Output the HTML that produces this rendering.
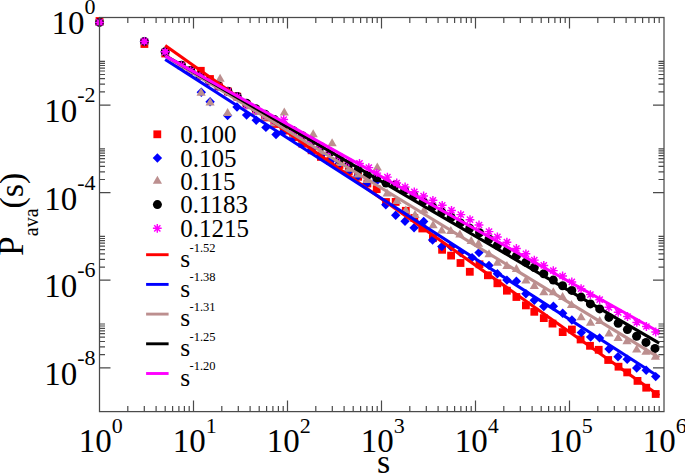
<!DOCTYPE html>
<html><head><meta charset="utf-8"><style>
html,body{margin:0;padding:0;background:#fff;}
#w{position:relative;width:685px;height:474px;overflow:hidden;font-family:"Liberation Serif",serif;color:#000;}
#w svg{position:absolute;left:0;top:0;}
.t{position:absolute;white-space:nowrap;line-height:1;}
.sup{position:relative;}
</style></head><body><div id="w">
<svg width="685" height="474" viewBox="0 0 685 474"><rect width="685" height="474" fill="#fff"/><g><rect x="95.6" y="17.1" width="7.8" height="7.8" fill="#ff0000"/><path d="M99.5 17.7L104.2 22.4L99.5 27.1L94.8 22.4Z" fill="#0000ff"/><path d="M99.5 17.9L104.1 25.9L94.9 25.9Z" fill="#bc8f8f"/><circle cx="99.5" cy="22.4" r="4.5" fill="#000"/><circle cx="99.5" cy="22.4" r="3.0" fill="#e000e0"/><path d="M95.1 22.4H103.9M99.5 18.0V26.8M96.4 19.3L102.6 25.5M96.4 25.5L102.6 19.3" stroke="#ff00ff" stroke-width="1.45" fill="none"/><rect x="140.5" y="40.1" width="7.8" height="7.8" fill="#ff0000"/><path d="M144.4 36.7L149.1 41.4L144.4 46.1L139.7 41.4Z" fill="#0000ff"/><path d="M144.4 36.9L149.0 44.9L139.8 44.9Z" fill="#bc8f8f"/><circle cx="144.4" cy="41.4" r="4.5" fill="#000"/><circle cx="144.4" cy="41.4" r="3.0" fill="#e000e0"/><path d="M140.0 41.4H148.8M144.4 37.0V45.8M141.3 38.3L147.5 44.5M141.3 44.5L147.5 38.3" stroke="#ff00ff" stroke-width="1.45" fill="none"/><rect x="161.3" y="49.6" width="7.8" height="7.8" fill="#ff0000"/><path d="M165.2 47.3L169.9 52.0L165.2 56.7L160.5 52.0Z" fill="#0000ff"/><path d="M165.2 47.5L169.8 55.5L160.6 55.5Z" fill="#bc8f8f"/><circle cx="165.2" cy="51.8" r="4.5" fill="#000"/><circle cx="165.2" cy="51.8" r="3.0" fill="#e000e0"/><path d="M160.8 51.8H169.6M165.2 47.4V56.2M162.1 48.7L168.3 54.9M162.1 54.9L168.3 48.7" stroke="#ff00ff" stroke-width="1.45" fill="none"/><rect x="651.8" y="390.1" width="7.8" height="7.8" fill="#ff0000"/><rect x="642.3" y="383.8" width="7.8" height="7.8" fill="#ff0000"/><rect x="633.6" y="377.0" width="7.8" height="7.8" fill="#ff0000"/><rect x="623.3" y="368.5" width="7.8" height="7.8" fill="#ff0000"/><rect x="614.6" y="362.8" width="7.8" height="7.8" fill="#ff0000"/><rect x="604.3" y="356.1" width="7.8" height="7.8" fill="#ff0000"/><rect x="594.8" y="345.9" width="7.8" height="7.8" fill="#ff0000"/><rect x="586.1" y="341.9" width="7.8" height="7.8" fill="#ff0000"/><rect x="576.7" y="335.6" width="7.8" height="7.8" fill="#ff0000"/><rect x="568.0" y="325.6" width="7.8" height="7.8" fill="#ff0000"/><rect x="558.8" y="328.2" width="7.8" height="7.8" fill="#ff0000"/><rect x="548.6" y="319.7" width="7.8" height="7.8" fill="#ff0000"/><rect x="539.9" y="314.2" width="7.8" height="7.8" fill="#ff0000"/><rect x="530.4" y="307.9" width="7.8" height="7.8" fill="#ff0000"/><rect x="522.0" y="301.5" width="7.8" height="7.8" fill="#ff0000"/><rect x="512.5" y="293.1" width="7.8" height="7.8" fill="#ff0000"/><rect x="503.0" y="286.8" width="7.8" height="7.8" fill="#ff0000"/><rect x="493.5" y="279.4" width="7.8" height="7.8" fill="#ff0000"/><rect x="484.0" y="271.4" width="7.8" height="7.8" fill="#ff0000"/><rect x="475.6" y="260.4" width="7.8" height="7.8" fill="#ff0000"/><rect x="465.9" y="267.9" width="7.8" height="7.8" fill="#ff0000"/><rect x="456.6" y="259.1" width="7.8" height="7.8" fill="#ff0000"/><rect x="447.2" y="251.7" width="7.8" height="7.8" fill="#ff0000"/><rect x="438.2" y="245.9" width="7.8" height="7.8" fill="#ff0000"/><rect x="429.0" y="234.3" width="7.8" height="7.8" fill="#ff0000"/><rect x="418.4" y="224.6" width="7.8" height="7.8" fill="#ff0000"/><rect x="410.4" y="214.1" width="7.8" height="7.8" fill="#ff0000"/><rect x="401.9" y="206.9" width="7.8" height="7.8" fill="#ff0000"/><rect x="391.8" y="198.0" width="7.8" height="7.8" fill="#ff0000"/><rect x="382.1" y="198.1" width="7.8" height="7.8" fill="#ff0000"/><rect x="372.8" y="185.3" width="7.8" height="7.8" fill="#ff0000"/><rect x="363.5" y="179.6" width="7.8" height="7.8" fill="#ff0000"/><rect x="354.2" y="172.9" width="7.8" height="7.8" fill="#ff0000"/><rect x="344.9" y="167.6" width="7.8" height="7.8" fill="#ff0000"/><rect x="335.6" y="161.1" width="7.8" height="7.8" fill="#ff0000"/><rect x="326.3" y="157.1" width="7.8" height="7.8" fill="#ff0000"/><rect x="317.0" y="153.0" width="7.8" height="7.8" fill="#ff0000"/><rect x="307.7" y="146.4" width="7.8" height="7.8" fill="#ff0000"/><rect x="298.4" y="139.8" width="7.8" height="7.8" fill="#ff0000"/><rect x="289.1" y="133.2" width="7.8" height="7.8" fill="#ff0000"/><rect x="279.8" y="126.7" width="7.8" height="7.8" fill="#ff0000"/><rect x="270.5" y="120.1" width="7.8" height="7.8" fill="#ff0000"/><rect x="261.2" y="113.5" width="7.8" height="7.8" fill="#ff0000"/><rect x="251.9" y="106.9" width="7.8" height="7.8" fill="#ff0000"/><rect x="242.6" y="100.3" width="7.8" height="7.8" fill="#ff0000"/><rect x="233.3" y="92.7" width="7.8" height="7.8" fill="#ff0000"/><rect x="224.0" y="87.5" width="7.8" height="7.8" fill="#ff0000"/><rect x="214.7" y="82.3" width="7.8" height="7.8" fill="#ff0000"/><rect x="206.1" y="75.1" width="7.8" height="7.8" fill="#ff0000"/><rect x="196.9" y="66.9" width="7.8" height="7.8" fill="#ff0000"/><rect x="186.8" y="66.7" width="7.8" height="7.8" fill="#ff0000"/><rect x="177.5" y="61.5" width="7.8" height="7.8" fill="#ff0000"/><path d="M655.7 371.9L660.4 376.6L655.7 381.3L651.0 376.6Z" fill="#0000ff"/><path d="M646.2 365.6L650.9 370.3L646.2 375.0L641.5 370.3Z" fill="#0000ff"/><path d="M636.7 363.3L641.4 368.0L636.7 372.7L632.0 368.0Z" fill="#0000ff"/><path d="M627.2 354.6L631.9 359.3L627.2 364.0L622.5 359.3Z" fill="#0000ff"/><path d="M618.0 352.0L622.7 356.7L618.0 361.4L613.3 356.7Z" fill="#0000ff"/><path d="M609.0 344.3L613.7 349.0L609.0 353.7L604.3 349.0Z" fill="#0000ff"/><path d="M599.6 333.2L604.3 337.9L599.6 342.6L594.9 337.9Z" fill="#0000ff"/><path d="M590.6 332.4L595.3 337.1L590.6 341.8L585.9 337.1Z" fill="#0000ff"/><path d="M581.3 327.9L586.0 332.6L581.3 337.3L576.6 332.6Z" fill="#0000ff"/><path d="M571.9 315.3L576.6 320.0L571.9 324.7L567.2 320.0Z" fill="#0000ff"/><path d="M562.7 308.5L567.4 313.2L562.7 317.9L558.0 313.2Z" fill="#0000ff"/><path d="M553.4 301.5L558.1 306.2L553.4 310.9L548.7 306.2Z" fill="#0000ff"/><path d="M543.8 301.8L548.5 306.5L543.8 311.2L539.1 306.5Z" fill="#0000ff"/><path d="M534.3 295.5L539.0 300.2L534.3 304.9L529.6 300.2Z" fill="#0000ff"/><path d="M525.9 289.1L530.6 293.8L525.9 298.5L521.2 293.8Z" fill="#0000ff"/><path d="M516.4 276.5L521.1 281.2L516.4 285.9L511.7 281.2Z" fill="#0000ff"/><path d="M506.9 275.4L511.6 280.1L506.9 284.8L502.2 280.1Z" fill="#0000ff"/><path d="M497.4 269.1L502.1 273.8L497.4 278.5L492.7 273.8Z" fill="#0000ff"/><path d="M489.0 260.7L493.7 265.4L489.0 270.1L484.3 265.4Z" fill="#0000ff"/><path d="M479.0 247.9L483.7 252.6L479.0 257.3L474.3 252.6Z" fill="#0000ff"/><path d="M472.1 252.9L476.8 257.6L472.1 262.3L467.4 257.6Z" fill="#0000ff"/><path d="M460.4 247.8L465.1 252.5L460.4 257.2L455.7 252.5Z" fill="#0000ff"/><path d="M451.1 242.1L455.8 246.8L451.1 251.5L446.4 246.8Z" fill="#0000ff"/><path d="M441.8 241.9L446.5 246.6L441.8 251.3L437.1 246.6Z" fill="#0000ff"/><path d="M432.6 235.3L437.3 240.0L432.6 244.7L427.9 240.0Z" fill="#0000ff"/><path d="M423.7 216.8L428.4 221.5L423.7 226.2L419.0 221.5Z" fill="#0000ff"/><path d="M414.1 223.0L418.8 227.7L414.1 232.4L409.4 227.7Z" fill="#0000ff"/><path d="M405.0 216.5L409.7 221.2L405.0 225.9L400.3 221.2Z" fill="#0000ff"/><path d="M395.7 210.5L400.4 215.2L395.7 219.9L391.0 215.2Z" fill="#0000ff"/><path d="M385.8 200.1L390.5 204.8L385.8 209.5L381.1 204.8Z" fill="#0000ff"/><path d="M376.2 176.7L380.9 181.4L376.2 186.1L371.5 181.4Z" fill="#0000ff"/><path d="M366.3 179.2L371.0 183.9L366.3 188.6L361.6 183.9Z" fill="#0000ff"/><path d="M357.8 171.6L362.5 176.3L357.8 181.0L353.1 176.3Z" fill="#0000ff"/><path d="M348.6 166.5L353.3 171.2L348.6 175.9L343.9 171.2Z" fill="#0000ff"/><path d="M338.4 159.8L343.1 164.5L338.4 169.2L333.7 164.5Z" fill="#0000ff"/><path d="M330.2 156.8L334.9 161.5L330.2 166.2L325.5 161.5Z" fill="#0000ff"/><path d="M320.9 150.8L325.6 155.5L320.9 160.2L316.2 155.5Z" fill="#0000ff"/><path d="M311.6 144.9L316.3 149.6L311.6 154.3L306.9 149.6Z" fill="#0000ff"/><path d="M302.3 138.9L307.0 143.6L302.3 148.3L297.6 143.6Z" fill="#0000ff"/><path d="M293.0 132.9L297.7 137.6L293.0 142.3L288.3 137.6Z" fill="#0000ff"/><path d="M283.7 126.9L288.4 131.6L283.7 136.3L279.0 131.6Z" fill="#0000ff"/><path d="M276.0 129.8L280.7 134.5L276.0 139.2L271.3 134.5Z" fill="#0000ff"/><path d="M265.9 122.7L270.6 127.4L265.9 132.1L261.2 127.4Z" fill="#0000ff"/><path d="M256.2 115.6L260.9 120.3L256.2 125.0L251.5 120.3Z" fill="#0000ff"/><path d="M246.6 110.4L251.3 115.1L246.6 119.8L241.9 115.1Z" fill="#0000ff"/><path d="M237.0 102.3L241.7 107.0L237.0 111.7L232.3 107.0Z" fill="#0000ff"/><path d="M227.6 110.8L232.3 115.5L227.6 120.2L222.9 115.5Z" fill="#0000ff"/><path d="M218.6 81.5L223.3 86.2L218.6 90.9L213.9 86.2Z" fill="#0000ff"/><path d="M210.1 97.1L214.8 101.8L210.1 106.5L205.4 101.8Z" fill="#0000ff"/><path d="M201.3 87.6L206.0 92.3L201.3 97.0L196.6 92.3Z" fill="#0000ff"/><path d="M190.7 65.9L195.4 70.6L190.7 75.3L186.0 70.6Z" fill="#0000ff"/><path d="M181.4 60.7L186.1 65.4L181.4 70.1L176.7 65.4Z" fill="#0000ff"/><path d="M655.4 351.8L660.0 359.8L650.8 359.8Z" fill="#bc8f8f"/><path d="M646.0 346.7L650.6 354.7L641.4 354.7Z" fill="#bc8f8f"/><path d="M636.7 344.6L641.3 352.6L632.1 352.6Z" fill="#bc8f8f"/><path d="M627.0 336.3L631.6 344.3L622.4 344.3Z" fill="#bc8f8f"/><path d="M618.1 333.1L622.7 341.1L613.5 341.1Z" fill="#bc8f8f"/><path d="M609.0 328.4L613.6 336.4L604.4 336.4Z" fill="#bc8f8f"/><path d="M599.7 316.0L604.3 324.0L595.1 324.0Z" fill="#bc8f8f"/><path d="M590.5 317.7L595.1 325.7L585.9 325.7Z" fill="#bc8f8f"/><path d="M581.1 312.2L585.7 320.2L576.5 320.2Z" fill="#bc8f8f"/><path d="M571.5 300.0L576.1 308.0L566.9 308.0Z" fill="#bc8f8f"/><path d="M562.6 292.1L567.2 300.1L558.0 300.1Z" fill="#bc8f8f"/><path d="M553.3 287.2L557.9 295.2L548.7 295.2Z" fill="#bc8f8f"/><path d="M543.8 287.2L548.4 295.2L539.2 295.2Z" fill="#bc8f8f"/><path d="M534.3 280.9L538.9 288.9L529.7 288.9Z" fill="#bc8f8f"/><path d="M525.9 275.6L530.5 283.6L521.3 283.6Z" fill="#bc8f8f"/><path d="M516.4 264.0L521.0 272.0L511.8 272.0Z" fill="#bc8f8f"/><path d="M506.9 260.9L511.5 268.9L502.3 268.9Z" fill="#bc8f8f"/><path d="M497.4 257.7L502.0 265.7L492.8 265.7Z" fill="#bc8f8f"/><path d="M489.0 249.3L493.6 257.3L484.4 257.3Z" fill="#bc8f8f"/><path d="M478.5 238.8L483.1 246.8L473.9 246.8Z" fill="#bc8f8f"/><path d="M471.2 236.0L475.8 244.0L466.6 244.0Z" fill="#bc8f8f"/><path d="M459.9 229.5L464.5 237.5L455.3 237.5Z" fill="#bc8f8f"/><path d="M450.8 225.9L455.4 233.9L446.2 233.9Z" fill="#bc8f8f"/><path d="M441.7 225.6L446.3 233.6L437.1 233.6Z" fill="#bc8f8f"/><path d="M433.1 220.2L437.7 228.2L428.5 228.2Z" fill="#bc8f8f"/><path d="M424.0 205.6L428.6 213.6L419.4 213.6Z" fill="#bc8f8f"/><path d="M415.0 210.1L419.6 218.1L410.4 218.1Z" fill="#bc8f8f"/><path d="M405.8 205.4L410.4 213.4L401.2 213.4Z" fill="#bc8f8f"/><path d="M397.0 196.1L401.6 204.1L392.4 204.1Z" fill="#bc8f8f"/><path d="M387.1 188.6L391.7 196.6L382.5 196.6Z" fill="#bc8f8f"/><path d="M377.3 162.5L381.9 170.5L372.7 170.5Z" fill="#bc8f8f"/><path d="M367.4 175.0L372.0 183.0L362.8 183.0Z" fill="#bc8f8f"/><path d="M358.1 169.4L362.7 177.4L353.5 177.4Z" fill="#bc8f8f"/><path d="M348.8 163.7L353.4 171.7L344.2 171.7Z" fill="#bc8f8f"/><path d="M339.5 158.0L344.1 166.0L334.9 166.0Z" fill="#bc8f8f"/><path d="M332.1 138.3L336.7 146.3L327.5 146.3Z" fill="#bc8f8f"/><path d="M320.9 146.7L325.5 154.7L316.3 154.7Z" fill="#bc8f8f"/><path d="M313.2 129.3L317.8 137.3L308.6 137.3Z" fill="#bc8f8f"/><path d="M302.3 135.3L306.9 143.3L297.7 143.3Z" fill="#bc8f8f"/><path d="M293.0 129.6L297.6 137.6L288.4 137.6Z" fill="#bc8f8f"/><path d="M284.3 107.5L288.9 115.5L279.7 115.5Z" fill="#bc8f8f"/><path d="M274.4 118.3L279.0 126.3L269.8 126.3Z" fill="#bc8f8f"/><path d="M265.1 112.6L269.7 120.6L260.5 120.6Z" fill="#bc8f8f"/><path d="M255.8 106.9L260.4 114.9L251.2 114.9Z" fill="#bc8f8f"/><path d="M246.5 101.3L251.1 109.3L241.9 109.3Z" fill="#bc8f8f"/><path d="M237.2 92.1L241.8 100.1L232.6 100.1Z" fill="#bc8f8f"/><path d="M227.6 108.1L232.2 116.1L223.0 116.1Z" fill="#bc8f8f"/><path d="M220.1 73.7L224.7 81.7L215.5 81.7Z" fill="#bc8f8f"/><path d="M210.1 97.6L214.7 105.6L205.5 105.6Z" fill="#bc8f8f"/><path d="M201.1 87.8L205.7 95.8L196.5 95.8Z" fill="#bc8f8f"/><path d="M190.7 66.1L195.3 74.1L186.1 74.1Z" fill="#bc8f8f"/><path d="M181.4 60.9L186.0 68.9L176.8 68.9Z" fill="#bc8f8f"/><circle cx="655.0" cy="348.4" r="4.5" fill="#000"/><circle cx="646.0" cy="342.4" r="4.5" fill="#000"/><circle cx="636.6" cy="336.2" r="4.5" fill="#000"/><circle cx="627.4" cy="329.6" r="4.5" fill="#000"/><circle cx="618.2" cy="323.3" r="4.5" fill="#000"/><circle cx="608.9" cy="317.4" r="4.5" fill="#000"/><circle cx="599.7" cy="308.9" r="4.5" fill="#000"/><circle cx="590.4" cy="303.9" r="4.5" fill="#000"/><circle cx="581.1" cy="297.1" r="4.5" fill="#000"/><circle cx="571.8" cy="290.4" r="4.5" fill="#000"/><circle cx="562.6" cy="285.8" r="4.5" fill="#000"/><circle cx="553.3" cy="280.1" r="4.5" fill="#000"/><circle cx="543.8" cy="273.8" r="4.5" fill="#000"/><circle cx="534.3" cy="267.5" r="4.5" fill="#000"/><circle cx="525.9" cy="262.2" r="4.5" fill="#000"/><circle cx="516.4" cy="255.9" r="4.5" fill="#000"/><circle cx="506.9" cy="250.6" r="4.5" fill="#000"/><circle cx="497.4" cy="245.3" r="4.5" fill="#000"/><circle cx="489.0" cy="239.0" r="4.5" fill="#000"/><circle cx="479.5" cy="232.7" r="4.5" fill="#000"/><circle cx="469.7" cy="228.3" r="4.5" fill="#000"/><circle cx="460.4" cy="222.9" r="4.5" fill="#000"/><circle cx="451.1" cy="217.5" r="4.5" fill="#000"/><circle cx="441.8" cy="212.1" r="4.5" fill="#000"/><circle cx="432.5" cy="206.7" r="4.5" fill="#000"/><circle cx="423.2" cy="201.2" r="4.5" fill="#000"/><circle cx="413.9" cy="195.8" r="4.5" fill="#000"/><circle cx="404.6" cy="190.4" r="4.5" fill="#000"/><circle cx="395.3" cy="185.0" r="4.5" fill="#000"/><circle cx="386.0" cy="183.1" r="4.5" fill="#000"/><circle cx="376.7" cy="177.7" r="4.5" fill="#000"/><circle cx="367.4" cy="175.4" r="4.5" fill="#000"/><circle cx="358.1" cy="170.0" r="4.5" fill="#000"/><circle cx="348.8" cy="164.6" r="4.5" fill="#000"/><circle cx="339.5" cy="159.2" r="4.5" fill="#000"/><circle cx="330.2" cy="152.1" r="4.5" fill="#000"/><circle cx="320.9" cy="146.7" r="4.5" fill="#000"/><circle cx="311.6" cy="141.3" r="4.5" fill="#000"/><circle cx="302.3" cy="135.8" r="4.5" fill="#000"/><circle cx="293.0" cy="130.4" r="4.5" fill="#000"/><circle cx="283.7" cy="125.0" r="4.5" fill="#000"/><circle cx="274.4" cy="119.6" r="4.5" fill="#000"/><circle cx="265.1" cy="114.2" r="4.5" fill="#000"/><circle cx="255.8" cy="108.8" r="4.5" fill="#000"/><circle cx="246.5" cy="103.3" r="4.5" fill="#000"/><circle cx="237.2" cy="96.4" r="4.5" fill="#000"/><circle cx="227.9" cy="91.2" r="4.5" fill="#000"/><circle cx="218.6" cy="86.0" r="4.5" fill="#000"/><circle cx="209.3" cy="80.8" r="4.5" fill="#000"/><circle cx="200.0" cy="75.6" r="4.5" fill="#000"/><circle cx="190.7" cy="70.4" r="4.5" fill="#000"/><circle cx="181.4" cy="65.2" r="4.5" fill="#000"/><path d="M651.3 332.0H660.1M655.7 327.6V336.4M652.6 328.9L658.8 335.1M652.6 335.1L658.8 328.9" stroke="#ff00ff" stroke-width="1.45" fill="none"/><path d="M642.0 326.5H650.8M646.4 322.1V330.9M643.3 323.4L649.5 329.6M643.3 329.6L649.5 323.4" stroke="#ff00ff" stroke-width="1.45" fill="none"/><path d="M632.4 322.4H641.2M636.8 318.0V326.8M633.7 319.3L639.9 325.5M633.7 325.5L639.9 319.3" stroke="#ff00ff" stroke-width="1.45" fill="none"/><path d="M623.1 316.5H631.9M627.5 312.1V320.9M624.4 313.4L630.6 319.6M624.4 319.6L630.6 313.4" stroke="#ff00ff" stroke-width="1.45" fill="none"/><path d="M613.8 312.3H622.6M618.2 307.9V316.7M615.1 309.2L621.3 315.4M615.1 315.4L621.3 309.2" stroke="#ff00ff" stroke-width="1.45" fill="none"/><path d="M604.5 307.3H613.3M608.9 302.9V311.7M605.8 304.2L612.0 310.4M605.8 310.4L612.0 304.2" stroke="#ff00ff" stroke-width="1.45" fill="none"/><path d="M595.3 299.7H604.1M599.7 295.3V304.1M596.6 296.6L602.8 302.8M596.6 302.8L602.8 296.6" stroke="#ff00ff" stroke-width="1.45" fill="none"/><path d="M586.0 294.6H594.8M590.4 290.2V299.0M587.3 291.5L593.5 297.7M587.3 297.7L593.5 291.5" stroke="#ff00ff" stroke-width="1.45" fill="none"/><path d="M576.7 288.7H585.5M581.1 284.3V293.1M578.0 285.6L584.2 291.8M578.0 291.8L584.2 285.6" stroke="#ff00ff" stroke-width="1.45" fill="none"/><path d="M567.4 281.9H576.2M571.8 277.5V286.3M568.7 278.8L574.9 285.0M568.7 285.0L574.9 278.8" stroke="#ff00ff" stroke-width="1.45" fill="none"/><path d="M558.2 276.0H567.0M562.6 271.6V280.4M559.5 272.9L565.7 279.1M559.5 279.1L565.7 272.9" stroke="#ff00ff" stroke-width="1.45" fill="none"/><path d="M548.9 270.6H557.7M553.3 266.2V275.0M550.2 267.5L556.4 273.7M550.2 273.7L556.4 267.5" stroke="#ff00ff" stroke-width="1.45" fill="none"/><path d="M539.4 265.4H548.2M543.8 261.0V269.8M540.7 262.3L546.9 268.5M540.7 268.5L546.9 262.3" stroke="#ff00ff" stroke-width="1.45" fill="none"/><path d="M529.9 260.1H538.7M534.3 255.7V264.5M531.2 257.0L537.4 263.2M531.2 263.2L537.4 257.0" stroke="#ff00ff" stroke-width="1.45" fill="none"/><path d="M521.5 253.8H530.3M525.9 249.4V258.2M522.8 250.7L529.0 256.9M522.8 256.9L529.0 250.7" stroke="#ff00ff" stroke-width="1.45" fill="none"/><path d="M512.0 248.5H520.8M516.4 244.1V252.9M513.3 245.4L519.5 251.6M513.3 251.6L519.5 245.4" stroke="#ff00ff" stroke-width="1.45" fill="none"/><path d="M502.5 242.2H511.3M506.9 237.8V246.6M503.8 239.1L510.0 245.3M503.8 245.3L510.0 239.1" stroke="#ff00ff" stroke-width="1.45" fill="none"/><path d="M493.0 236.9H501.8M497.4 232.5V241.3M494.3 233.8L500.5 240.0M494.3 240.0L500.5 233.8" stroke="#ff00ff" stroke-width="1.45" fill="none"/><path d="M484.6 231.6H493.4M489.0 227.2V236.0M485.9 228.5L492.1 234.7M485.9 234.7L492.1 228.5" stroke="#ff00ff" stroke-width="1.45" fill="none"/><path d="M474.6 225.0H483.4M479.0 220.6V229.4M475.9 221.9L482.1 228.1M475.9 228.1L482.1 221.9" stroke="#ff00ff" stroke-width="1.45" fill="none"/><path d="M465.6 219.7H474.4M470.0 215.3V224.1M466.9 216.6L473.1 222.8M466.9 222.8L473.1 216.6" stroke="#ff00ff" stroke-width="1.45" fill="none"/><path d="M456.4 214.6H465.2M460.8 210.2V219.0M457.7 211.5L463.9 217.7M457.7 217.7L463.9 211.5" stroke="#ff00ff" stroke-width="1.45" fill="none"/><path d="M447.1 210.4H455.9M451.5 206.0V214.8M448.4 207.3L454.6 213.5M448.4 213.5L454.6 207.3" stroke="#ff00ff" stroke-width="1.45" fill="none"/><path d="M437.8 205.3H446.6M442.2 200.9V209.7M439.1 202.2L445.3 208.4M439.1 208.4L445.3 202.2" stroke="#ff00ff" stroke-width="1.45" fill="none"/><path d="M428.5 200.3H437.3M432.9 195.9V204.7M429.8 197.2L436.0 203.4M429.8 203.4L436.0 197.2" stroke="#ff00ff" stroke-width="1.45" fill="none"/><path d="M419.2 196.0H428.0M423.6 191.6V200.4M420.5 192.9L426.7 199.1M420.5 199.1L426.7 192.9" stroke="#ff00ff" stroke-width="1.45" fill="none"/><path d="M409.9 191.8H418.7M414.3 187.4V196.2M411.2 188.7L417.4 194.9M411.2 194.9L417.4 188.7" stroke="#ff00ff" stroke-width="1.45" fill="none"/><path d="M400.7 187.0H409.5M405.1 182.6V191.4M402.0 183.9L408.2 190.1M402.0 190.1L408.2 183.9" stroke="#ff00ff" stroke-width="1.45" fill="none"/><path d="M392.3 183.0H401.1M396.7 178.6V187.4M393.6 179.9L399.8 186.1M393.6 186.1L399.8 179.9" stroke="#ff00ff" stroke-width="1.45" fill="none"/><path d="M383.0 177.1H391.8M387.4 172.7V181.5M384.3 174.0L390.5 180.2M384.3 180.2L390.5 174.0" stroke="#ff00ff" stroke-width="1.45" fill="none"/><path d="M372.3 173.1H381.1M376.7 168.7V177.5M373.6 170.0L379.8 176.2M373.6 176.2L379.8 170.0" stroke="#ff00ff" stroke-width="1.45" fill="none"/><path d="M364.4 167.6H373.2M368.8 163.2V172.0M365.7 164.5L371.9 170.7M365.7 170.7L371.9 164.5" stroke="#ff00ff" stroke-width="1.45" fill="none"/><path d="M355.1 163.4H363.9M359.5 159.0V167.8M356.4 160.3L362.6 166.5M356.4 166.5L362.6 160.3" stroke="#ff00ff" stroke-width="1.45" fill="none"/><path d="M344.4 162.0H353.2M348.8 157.6V166.4M345.7 158.9L351.9 165.1M345.7 165.1L351.9 158.9" stroke="#ff00ff" stroke-width="1.45" fill="none"/><path d="M335.1 156.8H343.9M339.5 152.4V161.2M336.4 153.7L342.6 159.9M336.4 159.9L342.6 153.7" stroke="#ff00ff" stroke-width="1.45" fill="none"/><path d="M325.8 151.6H334.6M330.2 147.2V156.0M327.1 148.5L333.3 154.7M327.1 154.7L333.3 148.5" stroke="#ff00ff" stroke-width="1.45" fill="none"/><path d="M316.5 146.4H325.3M320.9 142.0V150.8M317.8 143.3L324.0 149.5M317.8 149.5L324.0 143.3" stroke="#ff00ff" stroke-width="1.45" fill="none"/><path d="M307.2 141.2H316.0M311.6 136.8V145.6M308.5 138.1L314.7 144.3M308.5 144.3L314.7 138.1" stroke="#ff00ff" stroke-width="1.45" fill="none"/><path d="M297.9 136.0H306.7M302.3 131.6V140.4M299.2 132.9L305.4 139.1M299.2 139.1L305.4 132.9" stroke="#ff00ff" stroke-width="1.45" fill="none"/><path d="M288.6 130.8H297.4M293.0 126.4V135.2M289.9 127.7L296.1 133.9M289.9 133.9L296.1 127.7" stroke="#ff00ff" stroke-width="1.45" fill="none"/><path d="M279.3 119.5H288.1M283.7 115.1V123.9M280.6 116.4L286.8 122.6M280.6 122.6L286.8 116.4" stroke="#ff00ff" stroke-width="1.45" fill="none"/><path d="M270.0 120.4H278.8M274.4 116.0V124.8M271.3 117.3L277.5 123.5M271.3 123.5L277.5 117.3" stroke="#ff00ff" stroke-width="1.45" fill="none"/><path d="M260.7 115.2H269.5M265.1 110.8V119.6M262.0 112.1L268.2 118.3M262.0 118.3L268.2 112.1" stroke="#ff00ff" stroke-width="1.45" fill="none"/><path d="M251.4 110.0H260.2M255.8 105.6V114.4M252.7 106.9L258.9 113.1M252.7 113.1L258.9 106.9" stroke="#ff00ff" stroke-width="1.45" fill="none"/><path d="M242.1 104.8H250.9M246.5 100.4V109.2M243.4 101.7L249.6 107.9M243.4 107.9L249.6 101.7" stroke="#ff00ff" stroke-width="1.45" fill="none"/><path d="M232.8 96.9H241.6M237.2 92.5V101.3M234.1 93.8L240.3 100.0M234.1 100.0L240.3 93.8" stroke="#ff00ff" stroke-width="1.45" fill="none"/><path d="M223.5 91.7H232.3M227.9 87.3V96.1M224.8 88.6L231.0 94.8M224.8 94.8L231.0 88.6" stroke="#ff00ff" stroke-width="1.45" fill="none"/><path d="M214.2 86.5H223.0M218.6 82.1V90.9M215.5 83.4L221.7 89.6M215.5 89.6L221.7 83.4" stroke="#ff00ff" stroke-width="1.45" fill="none"/><path d="M204.9 81.3H213.7M209.3 76.9V85.7M206.2 78.2L212.4 84.4M206.2 84.4L212.4 78.2" stroke="#ff00ff" stroke-width="1.45" fill="none"/><path d="M195.6 76.1H204.4M200.0 71.7V80.5M196.9 73.0L203.1 79.2M196.9 79.2L203.1 73.0" stroke="#ff00ff" stroke-width="1.45" fill="none"/><path d="M186.3 70.9H195.1M190.7 66.5V75.3M187.6 67.8L193.8 74.0M187.6 74.0L193.8 67.8" stroke="#ff00ff" stroke-width="1.45" fill="none"/><path d="M177.0 65.7H185.8M181.4 61.3V70.1M178.3 62.6L184.5 68.8M178.3 68.8L184.5 62.6" stroke="#ff00ff" stroke-width="1.45" fill="none"/></g><line x1="165.2" y1="45.6" x2="659.2" y2="395.4" stroke="#ff0000" stroke-width="3.1"/><line x1="165.2" y1="59.4" x2="659.2" y2="377.0" stroke="#0000ff" stroke-width="3.1"/><line x1="165.2" y1="56.1" x2="659.2" y2="357.6" stroke="#bc8f8f" stroke-width="3.1"/><line x1="165.2" y1="55.5" x2="659.2" y2="343.2" stroke="#000000" stroke-width="3.1"/><line x1="165.2" y1="55.8" x2="659.2" y2="332.0" stroke="#ff00ff" stroke-width="3.1"/><rect x="99.5" y="17.5" width="564.5" height="394.1" fill="none" stroke="#4a4a4a" stroke-width="1.25"/><path d="M127.8 411.61v-5.5M127.8 17.5v5.5M144.3 411.61v-5.5M144.3 17.5v5.5M156.1 411.61v-5.5M156.1 17.5v5.5M165.2 411.61v-5.5M165.2 17.5v5.5M172.6 411.61v-5.5M172.6 17.5v5.5M178.9 411.61v-5.5M178.9 17.5v5.5M184.4 411.61v-5.5M184.4 17.5v5.5M189.2 411.61v-5.5M189.2 17.5v5.5M193.5 411.61v-11M193.5 17.5v11M221.8 411.61v-5.5M221.8 17.5v5.5M238.3 411.61v-5.5M238.3 17.5v5.5M250.1 411.61v-5.5M250.1 17.5v5.5M259.2 411.61v-5.5M259.2 17.5v5.5M266.6 411.61v-5.5M266.6 17.5v5.5M272.9 411.61v-5.5M272.9 17.5v5.5M278.4 411.61v-5.5M278.4 17.5v5.5M283.2 411.61v-5.5M283.2 17.5v5.5M287.5 411.61v-11M287.5 17.5v11M315.8 411.61v-5.5M315.8 17.5v5.5M332.3 411.61v-5.5M332.3 17.5v5.5M344.1 411.61v-5.5M344.1 17.5v5.5M353.2 411.61v-5.5M353.2 17.5v5.5M360.6 411.61v-5.5M360.6 17.5v5.5M366.9 411.61v-5.5M366.9 17.5v5.5M372.4 411.61v-5.5M372.4 17.5v5.5M377.2 411.61v-5.5M377.2 17.5v5.5M381.5 411.61v-11M381.5 17.5v11M409.8 411.61v-5.5M409.8 17.5v5.5M426.3 411.61v-5.5M426.3 17.5v5.5M438.1 411.61v-5.5M438.1 17.5v5.5M447.2 411.61v-5.5M447.2 17.5v5.5M454.6 411.61v-5.5M454.6 17.5v5.5M460.9 411.61v-5.5M460.9 17.5v5.5M466.4 411.61v-5.5M466.4 17.5v5.5M471.2 411.61v-5.5M471.2 17.5v5.5M475.5 411.61v-11M475.5 17.5v11M503.8 411.61v-5.5M503.8 17.5v5.5M520.3 411.61v-5.5M520.3 17.5v5.5M532.1 411.61v-5.5M532.1 17.5v5.5M541.2 411.61v-5.5M541.2 17.5v5.5M548.6 411.61v-5.5M548.6 17.5v5.5M554.9 411.61v-5.5M554.9 17.5v5.5M560.4 411.61v-5.5M560.4 17.5v5.5M565.2 411.61v-5.5M565.2 17.5v5.5M569.5 411.61v-11M569.5 17.5v11M597.8 411.61v-5.5M597.8 17.5v5.5M614.3 411.61v-5.5M614.3 17.5v5.5M626.1 411.61v-5.5M626.1 17.5v5.5M635.2 411.61v-5.5M635.2 17.5v5.5M642.6 411.61v-5.5M642.6 17.5v5.5M648.9 411.61v-5.5M648.9 17.5v5.5M654.4 411.61v-5.5M654.4 17.5v5.5M659.2 411.61v-5.5M659.2 17.5v5.5M99.5 17.5h11M664.0 17.5h-11M99.5 105.1h11M664.0 105.1h-11M99.5 192.7h11M664.0 192.7h-11M99.5 280.2h11M664.0 280.2h-11M99.5 367.8h11M664.0 367.8h-11M99.5 91.9h5.5M664.0 91.9h-5.5M99.5 84.2h5.5M664.0 84.2h-5.5M99.5 78.7h5.5M664.0 78.7h-5.5M99.5 74.5h5.5M664.0 74.5h-5.5M99.5 71.0h5.5M664.0 71.0h-5.5M99.5 68.1h5.5M664.0 68.1h-5.5M99.5 65.5h5.5M664.0 65.5h-5.5M99.5 63.3h5.5M664.0 63.3h-5.5M99.5 61.3h5.5M664.0 61.3h-5.5M99.5 179.5h5.5M664.0 179.5h-5.5M99.5 171.8h5.5M664.0 171.8h-5.5M99.5 166.3h5.5M664.0 166.3h-5.5M99.5 162.1h5.5M664.0 162.1h-5.5M99.5 158.6h5.5M664.0 158.6h-5.5M99.5 155.7h5.5M664.0 155.7h-5.5M99.5 153.1h5.5M664.0 153.1h-5.5M99.5 150.9h5.5M664.0 150.9h-5.5M99.5 148.9h5.5M664.0 148.9h-5.5M99.5 267.1h5.5M664.0 267.1h-5.5M99.5 259.3h5.5M664.0 259.3h-5.5M99.5 253.9h5.5M664.0 253.9h-5.5M99.5 249.6h5.5M664.0 249.6h-5.5M99.5 246.2h5.5M664.0 246.2h-5.5M99.5 243.2h5.5M664.0 243.2h-5.5M99.5 240.7h5.5M664.0 240.7h-5.5M99.5 238.5h5.5M664.0 238.5h-5.5M99.5 236.4h5.5M664.0 236.4h-5.5M99.5 354.6h5.5M664.0 354.6h-5.5M99.5 346.9h5.5M664.0 346.9h-5.5M99.5 341.5h5.5M664.0 341.5h-5.5M99.5 337.2h5.5M664.0 337.2h-5.5M99.5 333.7h5.5M664.0 333.7h-5.5M99.5 330.8h5.5M664.0 330.8h-5.5M99.5 328.3h5.5M664.0 328.3h-5.5M99.5 326.0h5.5M664.0 326.0h-5.5M99.5 324.0h5.5M664.0 324.0h-5.5" stroke="#4a4a4a" stroke-width="1.2" fill="none"/><text x="95.5" y="34.4" font-family="Liberation Serif" font-size="33" text-anchor="end">10<tspan font-size="22" dy="-20">0</tspan></text><text x="95.5" y="122.0" font-family="Liberation Serif" font-size="33" text-anchor="end">10<tspan font-size="22" dy="-20">-2</tspan></text><text x="95.5" y="209.6" font-family="Liberation Serif" font-size="33" text-anchor="end">10<tspan font-size="22" dy="-20">-4</tspan></text><text x="95.5" y="297.1" font-family="Liberation Serif" font-size="33" text-anchor="end">10<tspan font-size="22" dy="-20">-6</tspan></text><text x="95.5" y="384.7" font-family="Liberation Serif" font-size="33" text-anchor="end">10<tspan font-size="22" dy="-20">-8</tspan></text><text x="78.8" y="452.2" font-family="Liberation Serif" font-size="33">10<tspan font-size="22" dy="-19">0</tspan></text><text x="172.8" y="452.2" font-family="Liberation Serif" font-size="33">10<tspan font-size="22" dy="-19">1</tspan></text><text x="266.8" y="452.2" font-family="Liberation Serif" font-size="33">10<tspan font-size="22" dy="-19">2</tspan></text><text x="360.8" y="452.2" font-family="Liberation Serif" font-size="33">10<tspan font-size="22" dy="-19">3</tspan></text><text x="454.8" y="452.2" font-family="Liberation Serif" font-size="33">10<tspan font-size="22" dy="-19">4</tspan></text><text x="548.8" y="452.2" font-family="Liberation Serif" font-size="33">10<tspan font-size="22" dy="-19">5</tspan></text><text x="642.8" y="452.2" font-family="Liberation Serif" font-size="33">10<tspan font-size="22" dy="-19">6</tspan></text><text x="377" y="472.5" font-family="Liberation Serif" font-size="34">s</text><text transform="translate(23.2,256) rotate(-90)" font-family="Liberation Serif" font-size="34"><tspan font-size="35.5">P</tspan><tspan font-size="20" dy="15">ava</tspan><tspan dy="-15">(s)</tspan></text><text x="180.3" y="143.1" font-family="Liberation Serif" font-size="25">0.100</text><text x="180.3" y="166.5" font-family="Liberation Serif" font-size="25">0.105</text><text x="180.3" y="189.9" font-family="Liberation Serif" font-size="25">0.115</text><text x="180.3" y="213.3" font-family="Liberation Serif" font-size="25">0.1183</text><text x="180.3" y="236.7" font-family="Liberation Serif" font-size="25">0.1215</text><text x="180.3" y="266.9" font-family="Liberation Serif" font-size="25.5" font-weight="normal">s</text><text x="189.5" y="251.5" font-family="Liberation Serif" font-size="12.5">-1.52</text><text x="180.3" y="296.6" font-family="Liberation Serif" font-size="25.5" font-weight="normal">s</text><text x="189.5" y="281.2" font-family="Liberation Serif" font-size="12.5">-1.38</text><text x="180.3" y="326.3" font-family="Liberation Serif" font-size="25.5" font-weight="normal">s</text><text x="189.5" y="310.9" font-family="Liberation Serif" font-size="12.5">-1.31</text><text x="180.3" y="356.0" font-family="Liberation Serif" font-size="25.5" font-weight="normal">s</text><text x="189.5" y="340.6" font-family="Liberation Serif" font-size="12.5">-1.25</text><text x="180.3" y="385.7" font-family="Liberation Serif" font-size="25.5" font-weight="normal">s</text><text x="189.5" y="370.3" font-family="Liberation Serif" font-size="12.5">-1.20</text><rect x="153.4" y="130.4" width="7.8" height="7.8" fill="#ff0000"/><path d="M157.4 153.3L162.1 158.0L157.4 162.7L152.7 158.0Z" fill="#0000ff"/><path d="M157.4 175.8L162.0 183.8L152.8 183.8Z" fill="#bc8f8f"/><circle cx="157.4" cy="204.6" r="4.5" fill="#000"/><path d="M152.9 228.3H161.7M157.3 223.9V232.7M154.2 225.2L160.4 231.4M154.2 231.4L160.4 225.2" stroke="#ff00ff" stroke-width="1.45" fill="none"/><line x1="146.1" y1="254.7" x2="168.6" y2="254.7" stroke="#ff0000" stroke-width="2.9"/><line x1="146.1" y1="284.4" x2="168.6" y2="284.4" stroke="#0000ff" stroke-width="2.9"/><line x1="146.1" y1="314.09999999999997" x2="168.6" y2="314.09999999999997" stroke="#bc8f8f" stroke-width="2.9"/><line x1="146.1" y1="343.79999999999995" x2="168.6" y2="343.79999999999995" stroke="#000" stroke-width="2.9"/><line x1="146.1" y1="373.5" x2="168.6" y2="373.5" stroke="#ff00ff" stroke-width="2.9"/><defs><clipPath id="clip"><rect x="99" y="10" width="570" height="402"/></clipPath></defs></svg>

</div></body></html>
